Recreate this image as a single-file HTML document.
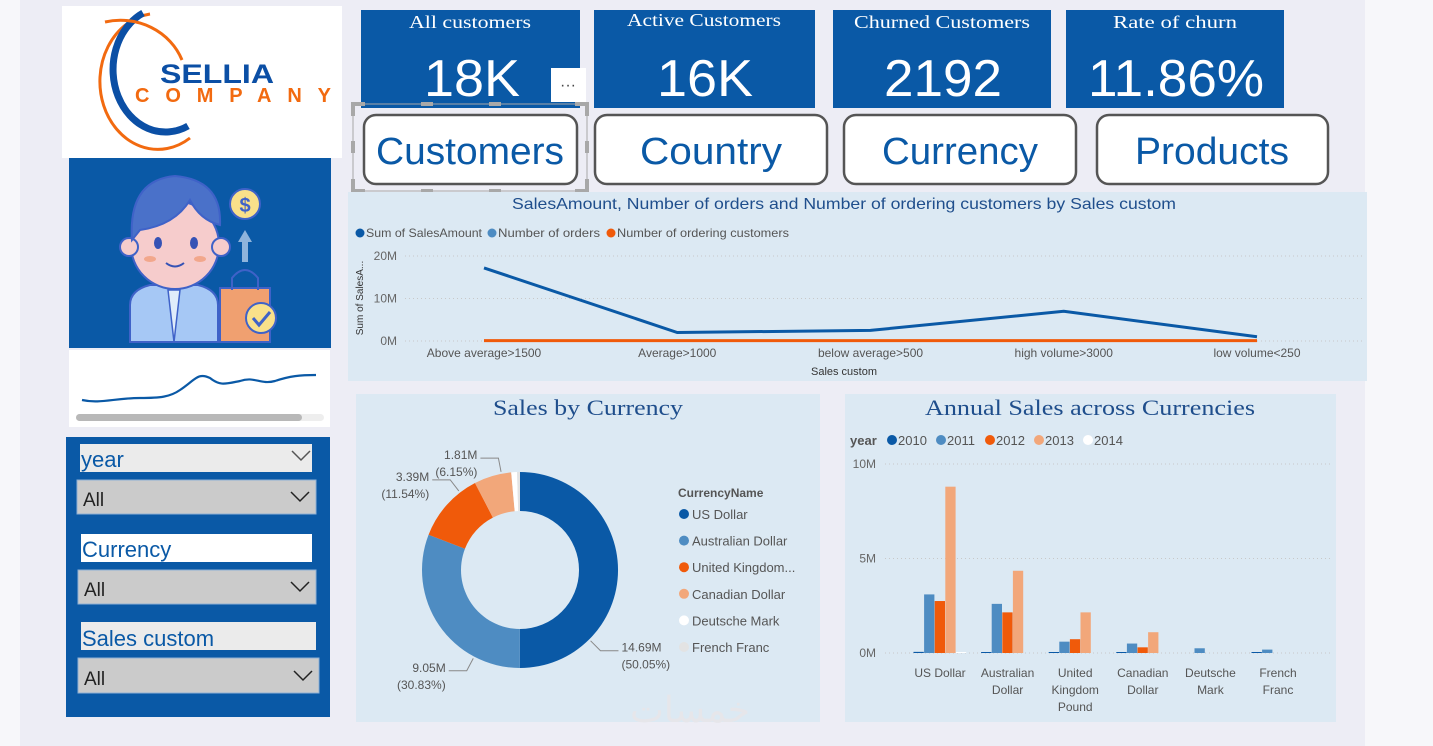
<!DOCTYPE html>
<html><head><meta charset="utf-8"><style>
html,body{margin:0;padding:0;width:1433px;height:746px;overflow:hidden;background:#fff}
svg{display:block;font-family:"Liberation Sans",sans-serif}
</style></head><body>
<svg id="root" width="1433" height="746" viewBox="0 0 1433 746" xmlns="http://www.w3.org/2000/svg">
<rect x="0" y="0" width="1433" height="746" fill="#f7f7fa"/>
<rect x="20" y="0" width="1345" height="746" fill="#ededf5"/>

<!-- Logo -->
<g>
<rect x="62" y="6" width="280" height="152" fill="#fff"/>
<path d="M150 14 A58 68 0 1 0 190 138" fill="none" stroke="#f26a10" stroke-width="3"/>
<path d="M143 13 A52 62 0 1 0 188 126" fill="none" stroke="#0b4fa5" stroke-width="7"/>
<path d="M105 22 A66 62 0 0 1 182 60" fill="none" stroke="#f26a10" stroke-width="3"/>
<text x="160" y="83" font-size="27" font-weight="bold" fill="#0b4fa5" textLength="114" lengthAdjust="spacingAndGlyphs">SELLIA</text>
<text x="135" y="102" font-size="20" font-weight="bold" fill="#f26a10" textLength="196" lengthAdjust="spacing">COMPANY</text>
</g>

<!-- Left panel -->
<rect x="69" y="158" width="262" height="190" fill="#0a59a6"/>
<g>
<path d="M130 342 L130 305 Q130 290 150 285 L198 285 Q218 290 218 305 L218 342 Z" fill="#a6c8f5" stroke="#3f62c8" stroke-width="2"/>
<path d="M168 290 L174 342 L180 290 Z" fill="#e0ecfa" stroke="#3f62c8" stroke-width="1.5"/>
<ellipse cx="175" cy="245" rx="44" ry="44" fill="#f6cccc" stroke="#3f62c8" stroke-width="2"/>
<circle cx="129" cy="247" r="9" fill="#f6cccc" stroke="#3f62c8" stroke-width="2"/>
<circle cx="221" cy="247" r="9" fill="#f6cccc" stroke="#3f62c8" stroke-width="2"/>
<path d="M132 240 Q128 180 175 176 Q222 180 220 225 Q200 220 190 200 Q175 225 140 230 Z" fill="#4a71c9" stroke="#3f62c8" stroke-width="2"/>
<ellipse cx="158" cy="243" rx="4" ry="6" fill="#3552b5"/><ellipse cx="194" cy="243" rx="4" ry="6" fill="#3552b5"/>
<path d="M166 263 Q175 270 184 263" fill="none" stroke="#3552b5" stroke-width="2"/>
<ellipse cx="150" cy="259" rx="6" ry="3" fill="#f2a78c"/><ellipse cx="200" cy="259" rx="6" ry="3" fill="#f2a78c"/>
<circle cx="245" cy="204" r="15" fill="#f9e08a" stroke="#3f62c8" stroke-width="2"/>
<text x="245" y="212" font-size="20" text-anchor="middle" fill="#3f62c8" font-weight="bold">$</text>
<rect x="242" y="240" width="6" height="22" fill="#8fb4dc"/><path d="M238 242 L245 230 L252 242 Z" fill="#8fb4dc"/>
<rect x="220" y="288" width="50" height="54" fill="#f0a070" stroke="#3f62c8" stroke-width="2"/>
<path d="M232 290 L232 278 Q245 262 258 278 L258 290" fill="none" stroke="#3f62c8" stroke-width="2"/>
<circle cx="261" cy="318" r="15" fill="#f9e08a" stroke="#3f62c8" stroke-width="2"/>
<path d="M253 318 L259 325 L270 312" fill="none" stroke="#3f62c8" stroke-width="3"/>
</g>
<g>
<rect x="69" y="350" width="261" height="77" fill="#fff"/>
<path d="M82 400 C100 404 115 398 140 398 C160 398 170 397 180 390 C195 380 198 372 210 378 C220 386 225 384 240 381 C255 376 260 385 275 381 C290 376 300 375 316 375" fill="none" stroke="#0a59a6" stroke-width="2.2"/>
<rect x="76" y="414" width="248" height="7" rx="3.5" fill="#eeeeee"/>
<rect x="76" y="414" width="226" height="7" rx="3.5" fill="#b8b8b8"/>
</g>
<rect x="66" y="437" width="264" height="280" fill="#0a59a6"/>
<g>
<rect x="80" y="444" width="232" height="28" fill="#ebebeb"/>
<text x="81" y="467" font-size="22" fill="#0a59a6">year</text>
<path d="M292 451 L301 460 L310 451" fill="none" stroke="#555" stroke-width="1.5"/>
<rect x="77" y="480" width="239" height="34" fill="#cbcbcb" stroke="#8fb0d4"/>
<text x="83" y="506" font-size="19" fill="#222">All</text>
<path d="M291 492 L300 501 L309 492" fill="none" stroke="#222" stroke-width="1.5"/>
</g>
<g>
<rect x="81" y="534" width="231" height="28" fill="#fff"/>
<text x="82" y="557" font-size="22" fill="#0a59a6">Currency</text>
<rect x="78" y="570" width="238" height="34" fill="#cbcbcb" stroke="#8fb0d4"/>
<text x="84" y="596" font-size="19" fill="#222">All</text>
<path d="M291 582 L300 591 L309 582" fill="none" stroke="#222" stroke-width="1.5"/>
</g>
<g>
<rect x="81" y="622" width="235" height="28" fill="#ebebeb"/>
<text x="82" y="646" font-size="22" fill="#0a59a6">Sales custom</text>
<rect x="78" y="658" width="241" height="35" fill="#cbcbcb" stroke="#8fb0d4"/>
<text x="84" y="685" font-size="19" fill="#222">All</text>
<path d="M294 671 L303 680 L312 671" fill="none" stroke="#222" stroke-width="1.5"/>
</g>

<!-- KPI cards -->
<g font-family="Liberation Serif, serif" fill="#fff">
<g><rect x="361" y="10" width="219" height="98" fill="#0a59a6"/>
<text x="470" y="28" font-size="18" text-anchor="middle" fill="#fff" textLength="122" lengthAdjust="spacingAndGlyphs">All customers</text>
<text x="472" y="96" font-size="52" text-anchor="middle" fill="#fff" font-family="Liberation Sans, sans-serif" textLength="96" lengthAdjust="spacingAndGlyphs">18K</text></g>
<g><rect x="594" y="10" width="221" height="98" fill="#0a59a6"/>
<text x="704" y="26" font-size="18" text-anchor="middle" fill="#fff" textLength="154" lengthAdjust="spacingAndGlyphs">Active Customers</text>
<text x="705" y="96" font-size="52" text-anchor="middle" fill="#fff" font-family="Liberation Sans, sans-serif" textLength="96" lengthAdjust="spacingAndGlyphs">16K</text></g>
<g><rect x="833" y="10" width="218" height="98" fill="#0a59a6"/>
<text x="942" y="28" font-size="18" text-anchor="middle" fill="#fff" textLength="176" lengthAdjust="spacingAndGlyphs">Churned Customers</text>
<text x="943" y="96" font-size="52" text-anchor="middle" fill="#fff" font-family="Liberation Sans, sans-serif" textLength="118" lengthAdjust="spacingAndGlyphs">2192</text></g>
<g><rect x="1066" y="10" width="218" height="98" fill="#0a59a6"/>
<text x="1175" y="28" font-size="18" text-anchor="middle" fill="#fff" textLength="124" lengthAdjust="spacingAndGlyphs">Rate of churn</text>
<text x="1176" y="96" font-size="52" text-anchor="middle" fill="#fff" font-family="Liberation Sans, sans-serif" textLength="176" lengthAdjust="spacingAndGlyphs">11.86%</text></g>
</g>
<g><rect x="551" y="68" width="35" height="34" fill="#fff"/><text x="568" y="90" font-size="16" text-anchor="middle" fill="#444">···</text></g>

<!-- Nav buttons -->
<g font-size="38" fill="#0a59a6" text-anchor="middle">
<g><rect x="364" y="115" width="213" height="69" rx="12" fill="#fff" stroke="#555" stroke-width="2.5"/><text x="470" y="164" fill="#0a59a6" textLength="188" lengthAdjust="spacingAndGlyphs">Customers</text></g>
<g><rect x="595" y="115" width="232" height="69" rx="12" fill="#fff" stroke="#555" stroke-width="2.5"/><text x="711" y="164" fill="#0a59a6" textLength="142" lengthAdjust="spacingAndGlyphs">Country</text></g>
<g><rect x="844" y="115" width="232" height="69" rx="12" fill="#fff" stroke="#555" stroke-width="2.5"/><text x="960" y="164" fill="#0a59a6" textLength="156" lengthAdjust="spacingAndGlyphs">Currency</text></g>
<g><rect x="1097" y="115" width="231" height="69" rx="12" fill="#fff" stroke="#555" stroke-width="2.5"/><text x="1212" y="164" fill="#0a59a6" textLength="154" lengthAdjust="spacingAndGlyphs">Products</text></g>
</g>
<g fill="none" stroke="#a8a8a8">
<rect x="353" y="104" width="234" height="87" stroke-width="1"/>
<path d="M353 116 V104 H365 M575 104 H587 V116 M587 179 V191 H575 M365 191 H353 V179" stroke-width="4"/>
<path d="M421 104 H433 M489 104 H501 M421 191 H433 M489 191 H501 M353 141 V153 M587 141 V153" stroke-width="4"/>
</g>

<!-- Line chart -->
<g id="lineChart">
<rect x="348" y="192" width="1019" height="189" fill="#dce9f3"/>
<text x="844" y="209" font-size="16" text-anchor="middle" fill="#1f4e8c" textLength="664" lengthAdjust="spacingAndGlyphs">SalesAmount, Number of orders and Number of ordering customers by Sales custom</text>
<g font-size="12" fill="#555">
<circle cx="360" cy="233" r="4.5" fill="#0a59a6"/><text x="366" y="237" textLength="116" lengthAdjust="spacingAndGlyphs">Sum of SalesAmount</text>
<circle cx="492" cy="233" r="4.5" fill="#4e8cc2"/><text x="498" y="237" textLength="102" lengthAdjust="spacingAndGlyphs">Number of orders</text>
<circle cx="611" cy="233" r="4.5" fill="#f05a0a"/><text x="617" y="237" textLength="172" lengthAdjust="spacingAndGlyphs">Number of ordering customers</text>
</g>
<text transform="translate(363 298) rotate(-90)" font-size="10" fill="#333" text-anchor="middle">Sum of SalesA...</text>
<text x="844" y="375" font-size="11" text-anchor="middle" fill="#333">Sales custom</text>
</g>

<!-- Donut -->
<g id="donut">
<rect x="356" y="394" width="464" height="328" fill="#dce9f3"/>
<text x="588" y="415" font-size="22" text-anchor="middle" fill="#1f4e8c" font-family="Liberation Serif, serif" textLength="190" lengthAdjust="spacingAndGlyphs">Sales by Currency</text>
<text x="678" y="497" font-size="12" font-weight="bold" fill="#555">CurrencyName</text>
<text x="690" y="722" font-size="36" fill="#e6e6ea" text-anchor="middle" font-family="Liberation Sans, 'Noto Sans CJK SC', sans-serif">خمسات</text>
</g>

<!-- Bar chart -->
<g id="bars">
<rect x="845" y="394" width="491" height="328" fill="#dce9f3"/>
<text x="1090" y="415" font-size="22" text-anchor="middle" fill="#1f4e8c" font-family="Liberation Serif, serif" textLength="330" lengthAdjust="spacingAndGlyphs">Annual Sales across Currencies</text>
<text x="850" y="445" font-size="13" font-weight="bold" fill="#555">year</text>
</g>
</svg>
<script>
const NS='http://www.w3.org/2000/svg';
function mk(parent,tag,attrs,txt){const e=document.createElementNS(NS,tag);for(const k in attrs)e.setAttribute(k,attrs[k]);if(txt!=null)e.textContent=txt;parent.appendChild(e);return e;}

// ---- Line chart data ----
const lineCategories=['Above average>1500','Average>1000','below average>500','high volume>3000','low volume<250'];
const salesAmount=[17.2,2.0,2.5,7.0,1.0];
const orderCustomers=[0.1,0.1,0.1,0.1,0.1];
const lineTicks=[0,10,20];
const lineTickLabels=['0M','10M','20M'];

// ---- Donut data ----
const currencyNames=['US Dollar','Australian Dollar','United Kingdom...','Canadian Dollar','Deutsche Mark','French Franc'];
const currencySales=[14.69,9.05,3.39,1.81,0.28,0.14];
const donutValueLabels=['14.69M','9.05M','3.39M','1.81M'];
const donutPctLabels=['(50.05%)','(30.83%)','(11.54%)','(6.15%)'];

// ---- Bar chart data ----
const barCategories=[['US Dollar'],['Australian','Dollar'],['United','Kingdom','Pound'],['Canadian','Dollar'],['Deutsche','Mark'],['French','Franc']];
const years=['2010','2011','2012','2013','2014'];
const sales2010=[0.06,0.05,0.05,0.05,0,0.05];
const sales2011=[3.1,2.6,0.6,0.5,0.25,0.18];
const sales2012=[2.75,2.15,0.73,0.3,0,0];
const sales2013=[8.8,4.35,2.15,1.1,0,0];
const sales2014=[0.04,0,0,0,0,0];
const barTicks=[0,5,10];
const barTickLabels=['0M','5M','10M'];

// line chart
(function(){
 const g=document.getElementById('lineChart');
 const y=v=>341-v*4.25;
 const x0=484,x1=1257;
 const x=i=>x0+i*(x1-x0)/(lineCategories.length-1);
 lineTicks.forEach((t,i)=>{
  const l=mk(g,'line',{x1:405,x2:1362,y1:y(t),y2:y(t),stroke:'#c8c8c8','stroke-dasharray':'1 3'});
  
  
  const tx=mk(g,'text',{x:397,y:y(t)+4,'font-size':12,fill:'#666','text-anchor':'end'},lineTickLabels[i]);
  
  
 });
 lineCategories.forEach((c,i)=>{
  const tx=mk(g,'text',{x:x(i),y:357,'font-size':12,fill:'#555','text-anchor':'middle'},c);
  
  
 });
 const p2=mk(g,'polyline',{points:orderCustomers.map((v,i)=>x(i)+','+y(v)).join(' '),fill:'none',stroke:'#f05a0a','stroke-width':3});
 
 
 const p1=mk(g,'polyline',{points:salesAmount.map((v,i)=>x(i)+','+y(v)).join(' '),fill:'none',stroke:'#0a59a6','stroke-width':3});
 
 
})();

// donut
(function(){
 const g=document.getElementById('donut');
 const cx=520,cy=570,R=98,r=59;
 const colors=['#0a59a6','#4e8cc2','#f05a0a','#f2a77a','#ffffff','#e3e3e3'];
 const total=currencySales.reduce((a,b)=>a+b,0);
 let a=0;
 const pt=(ang,rad)=>[cx+rad*Math.sin(ang),cy-rad*Math.cos(ang)];
 currencySales.forEach((v,i)=>{
  const span=v/total*2*Math.PI,a2=a+span;
  const [x1,y1]=pt(a,R),[x2,y2]=pt(a2,R),[x3,y3]=pt(a2,r),[x4,y4]=pt(a,r);
  const lg=span>Math.PI?1:0;
  const p=mk(g,'path',{d:`M${x1} ${y1}A${R} ${R} 0 ${lg} 1 ${x2} ${y2}L${x3} ${y3}A${r} ${r} 0 ${lg} 0 ${x4} ${y4}Z`,fill:colors[i]});
  
  
  a=a2;
  const ly=514+i*26.6;
  const c=mk(g,'circle',{cx:684,cy:ly,r:5,fill:colors[i]});
  
  
  const t=mk(g,'text',{x:692,y:ly+5,'font-size':13,fill:'#555'},currencyNames[i]);
  
  
 });
 // data labels (layout: position within slice used for leader)
 const labelBias=[0.75,0.25,0.75,0.74];
 donutValueLabels.forEach((lab,i)=>{
  let s=0;for(let k=0;k<i;k++)s+=currencySales[k];
  const ang=(s+currencySales[i]*labelBias[i])/total*2*Math.PI;
  const [ex,ey]=pt(ang,R+2);
  const [lx,ly]=pt(ang,R+16);
  const right=Math.sin(ang)>0;
  const tx=right?lx+18:lx-18;
  const ln=mk(g,'polyline',{points:`${ex},${ey} ${lx},${ly} ${tx},${ly}`,fill:'none',stroke:'#888','stroke-width':1});
  
  
  const anchor=right?'start':'end';
  const t1=mk(g,'text',{x:right?tx+3:tx-3,y:ly+1,'font-size':12,fill:'#555','text-anchor':anchor},lab);
  
  
  const t2=mk(g,'text',{x:right?tx+3:tx-3,y:ly+18,'font-size':12,fill:'#555','text-anchor':anchor},donutPctLabels[i]);
  
  
 });
})();

// bar chart
(function(){
 const g=document.getElementById('bars');
 const y=v=>653-v*18.9;
 const cx=i=>940+i*67.6;
 const colors=['#0a59a6','#4e8cc2','#f05a0a','#f2a77a','#ffffff'];
 const series=[sales2010,sales2011,sales2012,sales2013,sales2014];
 let lx=887;
 years.forEach((yr,i)=>{
  const c=mk(g,'circle',{cx:lx+5,cy:440,r:5,fill:colors[i]});
  
  
  const t=mk(g,'text',{x:lx+11,y:445,'font-size':13,fill:'#555'},yr);
  
  
  lx+=49;
 });
 barTicks.forEach((t,i)=>{
  const l=mk(g,'line',{x1:885,x2:1333,y1:y(t),y2:y(t),stroke:'#c8c8c8','stroke-dasharray':'1 3'});
  
  
  const tx=mk(g,'text',{x:876,y:y(t)+4,'font-size':12,fill:'#666','text-anchor':'end'},barTickLabels[i]);
  
  
 });
 const bw=10.6;
 barCategories.forEach((cat,ci)=>{
  series.forEach((s,si)=>{
   const v=s[ci]; if(v<=0) return;
   const h=Math.max(653-y(v),1);
   const r=mk(g,'rect',{x:cx(ci)-26.5+si*bw,y:653-h,width:bw-0.3,height:h,fill:colors[si]});
   
   
  });
  cat.forEach((line,li)=>{
   const t=mk(g,'text',{x:cx(ci),y:677+li*17,'font-size':12,fill:'#555','text-anchor':'middle'},line);
   
   
  });
 });
})();
</script>
</body></html>
